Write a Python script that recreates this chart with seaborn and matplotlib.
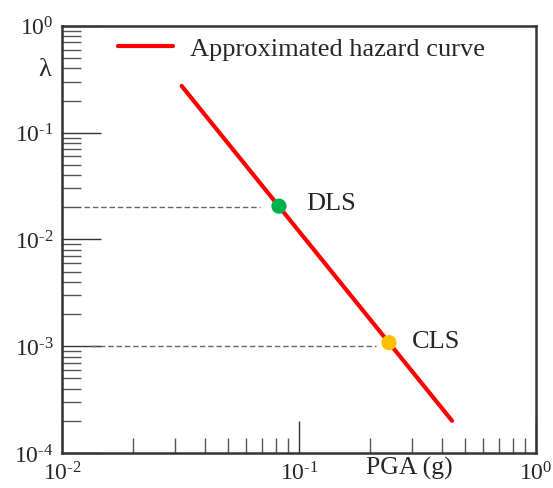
import numpy as np
import pandas as pd
import seaborn as sns
import matplotlib
matplotlib.use("Agg")
import matplotlib.pyplot as plt
from matplotlib.ticker import LogLocator, FuncFormatter, NullFormatter

sns.set_style("ticks")
plt.rcParams['font.family'] = ['Liberation Serif', 'DejaVu Serif']
plt.rcParams['mathtext.fontset'] = 'custom'
plt.rcParams['mathtext.rm'] = 'Liberation Serif'
plt.rcParams['mathtext.it'] = 'Liberation Serif:italic'
plt.rcParams['font.size'] = 16

# approximated hazard curve (straight in log-log, end points)
pga_curve = [0.032, 0.443]
lam_curve = [0.274, 2.0e-4]

# limit states
states = ["DLS", "CLS"]
pga_states = [0.0824, 0.24]
lam_states = [0.0205, 1.08e-3]
state_colors = ["#00b050", "#ffc000"]

# dashed guide lines: level, start, end
guide_lam = [0.02, 1.0e-3]
guide_start = [0.0124, 0.0133]
guide_end = [0.0685, 0.212]

curve = pd.DataFrame({"PGA": pga_curve, "lam": lam_curve})
pts = pd.DataFrame({"PGA": pga_states, "lam": lam_states, "state": states})

fig = plt.figure(figsize=(5.53, 4.89), dpi=100)
ax = fig.add_axes([0.112, 0.0716, 0.857, 0.8734])

for lv, x0, x1 in zip(guide_lam, guide_start, guide_end):
    ax.plot([x0, x1], [lv, lv], color="#666666", lw=1.0, ls=(0, (4, 2)), zorder=1)

sns.lineplot(data=curve, x="PGA", y="lam", color="red", lw=3,
             label="Approximated hazard curve", ax=ax, zorder=2)
sns.scatterplot(data=pts, x="PGA", y="lam", hue="state", palette=state_colors,
                s=120, edgecolor="none", legend=False, ax=ax, zorder=3)

ax.text(pga_states[0] * 1.3, lam_states[0] * 1.08, "DLS", ha="left", va="center", fontsize=19)
ax.text(pga_states[1] * 1.25, lam_states[1] * 1.03, "CLS", ha="left", va="center", fontsize=19)

ax.set_xscale("log")
ax.set_yscale("log")
ax.set_xlim(1e-2, 1e0)
ax.set_ylim(1e-4, 1e0)


def pow_label(v, p):
    e = int(round(np.log10(v)))
    sign = r"\text{-}" if e < 0 else ""
    return r"$\mathregular{10^{%s%d}}$" % (sign, abs(e))


fmt = FuncFormatter(pow_label)
ax.xaxis.set_major_locator(LogLocator(base=10, numticks=10))
ax.yaxis.set_major_locator(LogLocator(base=10, numticks=10))
ax.xaxis.set_minor_locator(LogLocator(base=10, subs=np.arange(2, 10), numticks=20))
ax.yaxis.set_minor_locator(LogLocator(base=10, subs=np.arange(2, 10), numticks=20))
ax.xaxis.set_major_formatter(fmt)
ax.yaxis.set_major_formatter(fmt)
ax.xaxis.set_minor_formatter(NullFormatter())
ax.yaxis.set_minor_formatter(NullFormatter())

ax.tick_params(which="major", direction="in", length=23, width=1, color="#333333",
               labelsize=17, pad=6)
ax.tick_params(axis="y", which="major", length=28)
ax.tick_params(which="minor", direction="in", length=11, width=1, color="#555555")
ax.tick_params(axis="y", which="minor", length=14)

for side in ["left", "bottom", "top", "right"]:
    ax.spines[side].set_visible(True)
    ax.spines[side].set_color("#333333")
    ax.spines[side].set_linewidth(1.8)

ax.set_xlabel("PGA (g)", fontsize=18.5)
ax.xaxis.set_label_coords(0.734, -0.008)
ax.set_ylabel("")
ax.text(-0.036, 0.9, "λ", transform=ax.transAxes, ha="center", va="center", fontsize=19)

ax.legend(loc="center left", bbox_to_anchor=(0.118, 0.948), frameon=False,
          borderpad=0, borderaxespad=0, handlelength=2.1, handletextpad=0.65,
          fontsize=19)

fig.savefig("out.png", dpi=100)
